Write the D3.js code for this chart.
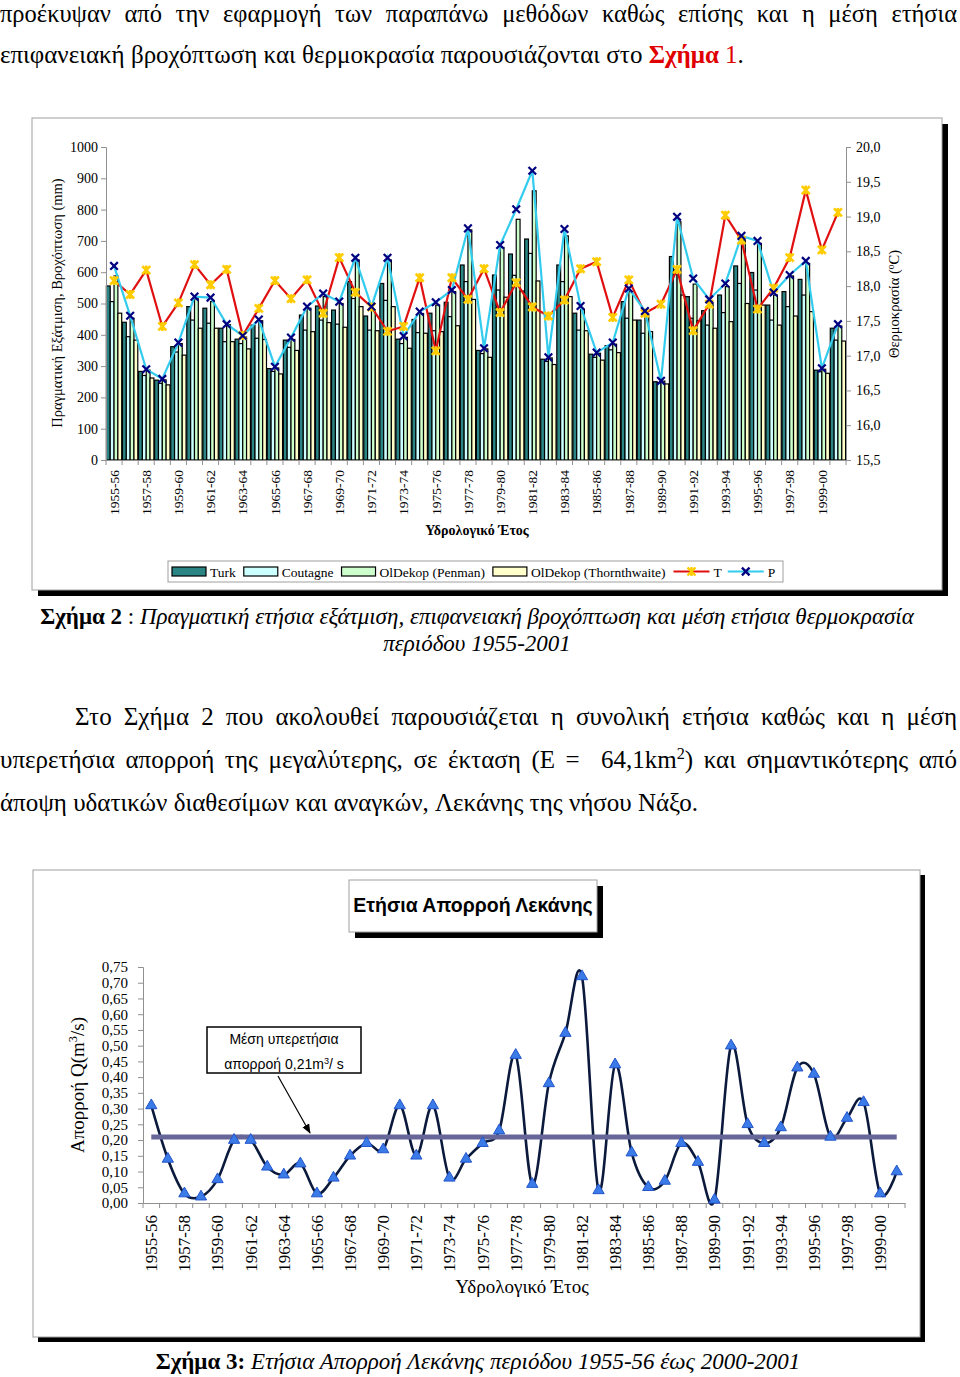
<!DOCTYPE html>
<html><head><meta charset="utf-8">
<script src="https://cdn.jsdelivr.net/npm/d3@7"></script>
<style>
body{margin:0;background:#fff;}
svg{display:block;}
</style></head>
<body>
<script>
// ---------------- DATA ----------------
const years = ["1955-56","1956-57","1957-58","1958-59","1959-60","1960-61","1961-62","1962-63","1963-64","1964-65",
"1965-66","1966-67","1967-68","1968-69","1969-70","1970-71","1971-72","1972-73","1973-74","1974-75",
"1975-76","1976-77","1977-78","1978-79","1979-80","1980-81","1981-82","1982-83","1983-84","1984-85",
"1985-86","1986-87","1987-88","1988-89","1989-90","1990-91","1991-92","1992-93","1993-94","1994-95",
"1995-96","1996-97","1997-98","1998-99","1999-00","2000-01"];
const precipP = [620,461,290,259,375,522,519,434,397,449,298,391,490,532,506,646,490,646,396,474,504,543,740,357,687,801,924,328,738,492,343,375,548,476,253,777,580,513,564,716,700,535,591,636,293,434];
const tempT = [18.08,17.88,18.23,17.42,17.76,18.31,18.02,18.24,17.29,17.68,18.08,17.82,18.09,17.61,18.41,17.91,17.70,17.35,17.42,18.12,17.07,18.12,17.81,18.25,17.62,18.05,17.70,17.57,17.80,18.25,18.35,17.55,18.09,17.61,17.74,18.24,17.36,17.74,19.02,18.66,17.67,17.97,18.41,19.38,18.52,19.06];
const evapTurk = [556,440,283,255,362,490,485,421,386,431,292,383,463,492,479,570,460,564,386,449,469,504,623,350,591,658,706,322,623,469,338,365,506,447,250,650,522,477,527,620,599,495,538,577,287,421];
const evapCoutagne = [506,394,270,245,345,447,437,378,372,389,283,360,415,447,434,516,415,510,372,407,413,458,570,340,543,590,660,315,570,415,328,352,453,405,247,607,453,431,471,564,543,447,490,527,282,383];
const evapPenman = [588,453,287,256,372,515,506,432,393,445,294,385,485,522,500,639,479,639,392,468,495,538,735,355,679,769,860,326,716,481,341,370,538,466,252,761,562,500,554,703,692,527,588,628,290,428];
const evapThorn = [469,383,262,240,335,421,421,378,355,385,275,350,410,439,424,490,413,490,357,405,410,429,513,328,520,540,572,305,522,413,319,343,447,410,243,527,445,421,442,500,495,431,460,474,277,380];
const seriesNames = ["Turk","Coutagne","OlDekop (Penman)","OlDekop (Thornthwaite)"];
const seriesColors = ["#2b8585","#ccffff","#ccffcc","#ffffcc"];
const leftTicks = [0,100,200,300,400,500,600,700,800,900,1000];
const rightTicks = [15.5,16,16.5,17,17.5,18,18.5,19,19.5,20];
const runoffQ = [0.31,0.14,0.03,0.02,0.075,0.20,0.20,0.115,0.09,0.125,0.03,0.08,0.15,0.19,0.17,0.31,0.15,0.31,0.08,0.14,0.19,0.23,0.47,0.06,0.38,0.54,0.72,0.04,0.44,0.16,0.05,0.07,0.19,0.13,0.01,0.50,0.25,0.19,0.24,0.43,0.41,0.21,0.27,0.32,0.03,0.10];
const meanQ = 0.21;
const qTicks = [0,0.05,0.10,0.15,0.20,0.25,0.30,0.35,0.40,0.45,0.50,0.55,0.60,0.65,0.70,0.75];

// ---------------- SETUP ----------------
const SERIF = "'Liberation Serif','Times New Roman',serif";
const SANS = "'Liberation Sans',Arial,sans-serif";
const svg = d3.select("body").append("svg").attr("width",960).attr("height",1377)
  .style("font-family",SERIF);

function styleSeg(t, s){
  t.text(s.t);
  if(s.b) t.attr("font-weight","bold");
  if(s.i) t.attr("font-style","italic");
  if(s.c) t.attr("fill",s.c);
  if(s.sup) t.attr("baseline-shift","super").attr("font-size","65%");
}
function textLine(words, x0, x1, y, size, justify){
  const g = svg.append("g").attr("font-size",size);
  const els = words.map(w=>{
    const t = g.append("text").attr("y",y);
    w.forEach(s=>styleSeg(t.append("tspan"), s));
    return t;
  });
  const widths = els.map(e=>e.node().getComputedTextLength());
  const total = d3.sum(widths);
  const sp = justify ? (x1-x0-total)/(words.length-1) : size*0.25;
  let x = x0;
  els.forEach((e,i)=>{ e.attr("x",x); x += widths[i]+sp; });
}
const W = s => s.split(" ").map(w=>[{t:w}]);

// ---------------- TOP TEXT ----------------
textLine(W("προέκυψαν από την εφαρμογή των παραπάνω μεθόδων καθώς επίσης και η μέση ετήσια"),0,957,22,24.5,true);
textLine(W("επιφανειακή βροχόπτωση και θερμοκρασία παρουσιάζονται στο").concat([[{t:"Σχήμα",b:1,c:"#e00000"}],[{t:"1",c:"#e00000"},{t:"."}]]),0,957,63,25,false);

// ---------------- CHART 1 ----------------
svg.append("rect").attr("x",38).attr("y",124).attr("width",910).attr("height",472).attr("fill","#000");
svg.append("rect").attr("x",32).attr("y",118).attr("width",910).attr("height",472).attr("fill","#fff").attr("stroke","#a0a0a0");

const x1 = d3.scaleBand().domain(years).range([106,846]).padding(0);
const sub = d3.scaleBand().domain(seriesNames).range([0,x1.bandwidth()]).paddingInner(0).paddingOuter(0.1);
const yL = d3.scaleLinear().domain([0,1000]).range([460,147]);
const yR = d3.scaleLinear().domain([15.5,20]).range([460,147]);
const evap = [evapTurk,evapCoutagne,evapPenman,evapThorn];

const c1 = svg.append("g");
years.forEach((yr,i)=>{
  seriesNames.forEach((s,k)=>{
    c1.append("rect").attr("x",x1(yr)+sub(s)).attr("width",sub.bandwidth())
      .attr("y",yL(evap[k][i])).attr("height",yL(0)-yL(evap[k][i]))
      .attr("fill",seriesColors[k]).attr("stroke","#000").attr("stroke-width",1.2);
  });
});
function axStyle(g){
  g.select(".domain").attr("stroke","#909090");
  g.selectAll(".tick line").attr("stroke","#909090");
  g.selectAll("text").attr("fill","#000").style("font-family",SERIF);
}
svg.append("g").attr("transform","translate(106,0)")
  .call(d3.axisLeft(yL).tickValues(leftTicks).tickSize(5).tickPadding(3).tickFormat(d=>d))
  .attr("font-size",14).call(axStyle);
svg.append("g").attr("transform","translate(846,0)")
  .call(d3.axisRight(yR).tickValues(rightTicks).tickSize(5).tickPadding(5).tickFormat(d=>d.toFixed(1).replace(".",",")))
  .attr("font-size",14).call(axStyle);
const xa1 = svg.append("g").attr("transform","translate(0,460)")
  .call(d3.axisBottom(x1).tickValues(years.filter((d,i)=>i%2===0)).tickSize(0).tickSizeOuter(0))
  .attr("font-size",13.5).call(axStyle);
xa1.selectAll("text").attr("transform","rotate(-90)").attr("x",-10).attr("y",0).attr("dy","0.35em").attr("text-anchor","end");
xa1.selectAll(".tickmark").data(years.concat(["end"])).enter().append("line")
  .attr("x1",(d,i)=>i<years.length?x1(d):x1.range()[1]).attr("x2",(d,i)=>i<years.length?x1(d):x1.range()[1])
  .attr("y1",0).attr("y2",5).attr("stroke","#909090");

const lineP = d3.line().x((d,i)=>x1(years[i])+x1.bandwidth()/2).y(d=>yL(d));
const lineT = d3.line().x((d,i)=>x1(years[i])+x1.bandwidth()/2).y(d=>yR(d));
svg.append("path").attr("d",lineT(tempT)).attr("fill","none").attr("stroke","#e01010").attr("stroke-width",2.2);
svg.append("path").attr("d",lineP(precipP)).attr("fill","none").attr("stroke","#33ccee").attr("stroke-width",2.2);
const starPath = "M-4,-4L4,4M-4,4L4,-4M0,-4.5L0,4.5";
const xPath = "M-3.8,-3.8L3.8,3.8M-3.8,3.8L3.8,-3.8";
svg.append("g").selectAll("path").data(tempT).enter().append("path")
  .attr("transform",(d,i)=>`translate(${x1(years[i])+x1.bandwidth()/2},${yR(d)})`)
  .attr("d",starPath).attr("stroke","#ffcc00").attr("stroke-width",2.6).attr("fill","none");
svg.append("g").selectAll("path").data(precipP).enter().append("path")
  .attr("transform",(d,i)=>`translate(${x1(years[i])+x1.bandwidth()/2},${yL(d)})`)
  .attr("d",xPath).attr("stroke","#000080").attr("stroke-width",2.2).attr("fill","none");

svg.append("text").attr("x",477).attr("y",535).attr("text-anchor","middle").attr("font-size",14).attr("font-weight","bold").text("Υδρολογικό Έτος");
svg.append("text").attr("transform","translate(62,303) rotate(-90)").attr("text-anchor","middle").attr("font-size",14.5).text("Πραγματική Εξάτμιση, Βροχόπτωση (mm)");
const rl = svg.append("text").attr("transform","translate(899,304) rotate(-90)").attr("text-anchor","middle").attr("font-size",14.5);
rl.append("tspan").text("Θερμοκρασία (");
rl.append("tspan").text("o").attr("baseline-shift","super").attr("font-size","65%");
rl.append("tspan").text("C)");

// legend
svg.append("rect").attr("x",168).attr("y",561).attr("width",615).attr("height",21).attr("fill","#fff").attr("stroke","#a0a0a0");
const lg = svg.append("g").attr("font-size",13.5);
let lx = 172;
seriesNames.forEach((s,k)=>{
  lg.append("rect").attr("x",lx).attr("y",567).attr("width",34).attr("height",9).attr("fill",seriesColors[k]).attr("stroke","#000").attr("stroke-width",1.2);
  const t = lg.append("text").attr("x",lx+38).attr("y",576.5).text(s);
  lx += 38 + t.node().getComputedTextLength() + 8;
});
[["T","#e01010",starPath,"#ffcc00"],["P","#33ccee",xPath,"#000080"]].forEach(([n,lc,mp,mc])=>{
  lg.append("line").attr("x1",lx).attr("x2",lx+36).attr("y1",571.5).attr("y2",571.5).attr("stroke",lc).attr("stroke-width",2.2);
  lg.append("path").attr("transform",`translate(${lx+18},571.5)`).attr("d",mp).attr("stroke",mc).attr("stroke-width",2.4).attr("fill","none");
  const t = lg.append("text").attr("x",lx+40).attr("y",576.5).text(n);
  lx += 40 + t.node().getComputedTextLength() + 6;
});

// caption 2
(function(){
  const t = svg.append("text").attr("x",477).attr("y",624).attr("text-anchor","middle").attr("font-size",23);
  t.append("tspan").attr("font-weight","bold").text("Σχήμα 2");
  t.append("tspan").text(" : ");
  t.append("tspan").attr("font-style","italic").text("Πραγματική ετήσια εξάτμιση, επιφανειακή βροχόπτωση και μέση ετήσια θερμοκρασία");
  svg.append("text").attr("x",477).attr("y",651).attr("text-anchor","middle").attr("font-size",23).attr("font-style","italic").text("περιόδου 1955-2001");
})();

// paragraph
textLine(W("Στο Σχήμα 2 που ακολουθεί παρουσιάζεται η συνολική ετήσια καθώς και η μέση"),75,957,725,25,true);
textLine(W("υπερετήσια απορροή της μεγαλύτερης, σε έκταση (Ε = ").concat([[{t:"64,1km"},{t:"2",sup:1},{t:")"}]]).concat(W("και σημαντικότερης από")),0,957,768,25,true);
textLine(W("άποψη υδατικών διαθεσίμων και αναγκών, Λεκάνης της νήσου Νάξο."),0,957,811,25,false);

// ---------------- CHART 2 ----------------
svg.append("rect").attr("x",38).attr("y",875).attr("width",887).attr("height",467).attr("fill","#000");
svg.append("rect").attr("x",33).attr("y",870).attr("width",887).attr("height",467).attr("fill","#fff").attr("stroke","#a0a0a0");
svg.append("rect").attr("x",355).attr("y",886).attr("width",248).attr("height",52).attr("fill","#000");
svg.append("rect").attr("x",349).attr("y",880).attr("width",248).attr("height",52).attr("fill","#fff").attr("stroke","#a0a0a0");
svg.append("text").attr("x",473).attr("y",912).attr("text-anchor","middle").attr("font-size",19.5).attr("font-weight","bold").style("font-family",SANS).text("Ετήσια Απορροή Λεκάνης");

const x2 = d3.scaleBand().domain(years).range([143,905]).padding(0);
const y2 = d3.scaleLinear().domain([0,0.75]).range([1203,967]);
svg.append("g").attr("transform","translate(143,0)")
  .call(d3.axisLeft(y2).tickValues(qTicks).tickSize(5).tickPadding(10).tickFormat(d=>d.toFixed(2).replace(".",",")))
  .attr("font-size",15).call(axStyle);
const xa2 = svg.append("g").attr("transform","translate(0,1203)")
  .call(d3.axisBottom(x2).tickValues(years.filter((d,i)=>i%2===0)).tickSize(0).tickSizeOuter(0))
  .attr("font-size",17).call(axStyle);
xa2.selectAll("text").attr("transform","rotate(-90)").attr("x",-12).attr("y",0).attr("dy","0.35em").attr("text-anchor","end");
xa2.selectAll(".tickmark").data(years.concat(["end"])).enter().append("line")
  .attr("x1",(d,i)=>i<years.length?x2(d):x2.range()[1]).attr("x2",(d,i)=>i<years.length?x2(d):x2.range()[1])
  .attr("y1",0).attr("y2",5).attr("stroke","#909090");

const cx2 = i => x2(years[i]) + x2.bandwidth()/2;
const lineQ = d3.line().x((d,i)=>cx2(i)).y(d=>y2(d)).curve(d3.curveCatmullRom.alpha(0));
svg.append("path").attr("d",lineQ(runoffQ)).attr("fill","none").attr("stroke","#0b1a3c").attr("stroke-width",2.6);
svg.append("line").attr("x1",cx2(0)).attr("x2",cx2(years.length-1)).attr("y1",y2(meanQ)).attr("y2",y2(meanQ))
  .attr("stroke","#666699").attr("stroke-width",5);
svg.append("g").selectAll("path").data(runoffQ).enter().append("path")
  .attr("transform",(d,i)=>`translate(${cx2(i)},${y2(d)})`)
  .attr("d",d3.symbol().type(d3.symbolTriangle).size(55))
  .attr("fill","#3b7be8").attr("stroke","#2255cc").attr("stroke-width",1);

// annotation
svg.append("rect").attr("x",207).attr("y",1027).attr("width",154).attr("height",46).attr("fill","#fff").attr("stroke","#000").attr("stroke-width",1.5);
const an = svg.append("g").attr("font-size",14).style("font-family",SANS).attr("text-anchor","middle");
an.append("text").attr("x",284).attr("y",1044).text("Μέση υπερετήσια");
const an2 = an.append("text").attr("x",284).attr("y",1069);
an2.append("tspan").text("απορροή 0,21m");
an2.append("tspan").text("3").attr("baseline-shift","super").attr("font-size","65%");
an2.append("tspan").text("/ s");
svg.append("defs").append("marker").attr("id","arr").attr("viewBox","0 0 10 10").attr("refX",9).attr("refY",5)
  .attr("markerWidth",8).attr("markerHeight",8).attr("orient","auto")
  .append("path").attr("d","M0,1L10,5L0,9Z").attr("fill","#000");
svg.append("line").attr("x1",278).attr("y1",1076).attr("x2",310).attr("y2",y2(meanQ)-4).attr("stroke","#000").attr("stroke-width",1.2).attr("marker-end","url(#arr)");

const yt = svg.append("text").attr("transform","translate(84,1085) rotate(-90)").attr("text-anchor","middle").attr("font-size",19);
yt.append("tspan").text("Απορροή Q(m");
yt.append("tspan").text("3").attr("baseline-shift","super").attr("font-size","65%");
yt.append("tspan").text("/s)");
svg.append("text").attr("x",522).attr("y",1293).attr("text-anchor","middle").attr("font-size",19).text("Υδρολογικό Έτος");

(function(){
  const t = svg.append("text").attr("x",478).attr("y",1369).attr("text-anchor","middle").attr("font-size",23);
  t.append("tspan").attr("font-weight","bold").text("Σχήμα 3:");
  t.append("tspan").attr("font-style","italic").text(" Ετήσια Απορροή Λεκάνης περιόδου 1955-56 έως 2000-2001");
})();
</script>
</body></html>
